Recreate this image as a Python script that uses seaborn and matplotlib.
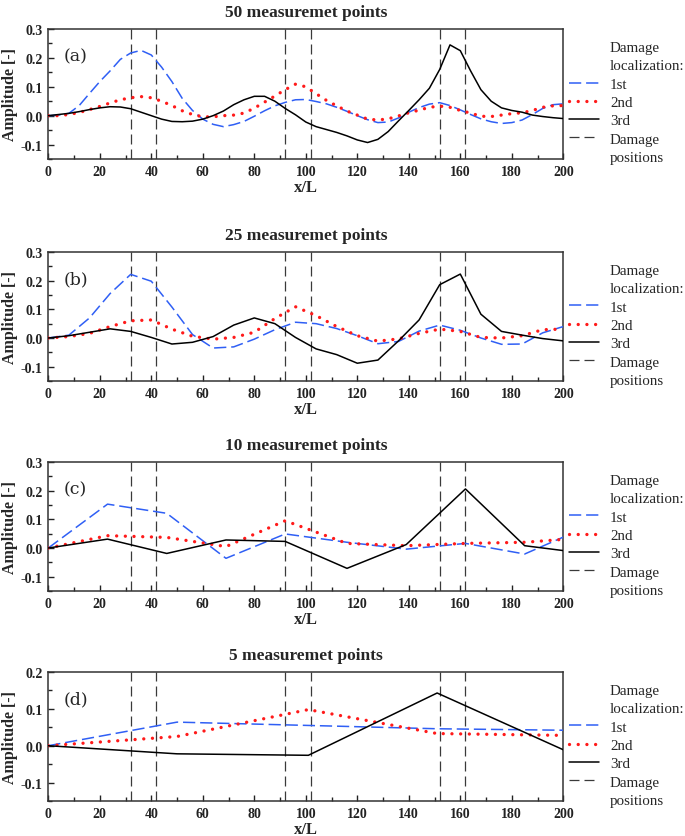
import matplotlib
matplotlib.use("Agg")
import matplotlib.pyplot as plt
import seaborn as sns
import numpy as np
from matplotlib.lines import Line2D
from matplotlib.ticker import MultipleLocator

# ---------------- data ----------------
x50 = list(range(0, 201, 4))
a1 = [0, 0.002, 0.008, 0.035, 0.077, 0.118, 0.155, 0.195, 0.217, 0.226, 0.21, 0.168, 0.118, 0.06, 0.018,
      -0.012, -0.03, -0.038, -0.031, -0.02, -0.002, 0.017, 0.034, 0.046, 0.055, 0.056, 0.049, 0.041, 0.029,
      0.015, 0.0, -0.014, -0.024, -0.022, -0.008, 0.012, 0.028, 0.04, 0.045, 0.035, 0.02, 0.004, -0.011,
      -0.021, -0.027, -0.024, -0.015, 0.004, 0.025, 0.038, 0.041]
a2 = [0, 0.0, 0.004, 0.011, 0.021, 0.032, 0.044, 0.055, 0.062, 0.066, 0.062, 0.05, 0.035, 0.017, 0.004,
      -0.004, -0.004, 0.0, 0.002, 0.009, 0.026, 0.047, 0.068, 0.09, 0.109, 0.1, 0.076, 0.053, 0.034, 0.016,
      0.002, -0.012, -0.015, -0.011, -0.001, 0.01, 0.019, 0.029, 0.033, 0.029, 0.018, 0.009, -0.002, -0.003,
      0.002, 0.007, 0.01, 0.018, 0.029, 0.034, 0.035]
a3 = [0, 0.004, 0.008, 0.014, 0.021, 0.027, 0.031, 0.03, 0.024, 0.012, 0.0, -0.012, -0.02, -0.021, -0.019,
      -0.012, 0.0, 0.016, 0.038, 0.055, 0.067, 0.067, 0.05, 0.025, 0.003, -0.022, -0.038, -0.048, -0.058,
      -0.07, -0.084, -0.093, -0.082, -0.055, -0.018, 0.018, 0.055, 0.095, 0.16, 0.245, 0.225, 0.155, 0.09,
      0.05, 0.027, 0.018, 0.012, 0.002, -0.003, -0.007, -0.01]

x25 = list(range(0, 201, 8))
b1 = [0, 0.01, 0.07, 0.155, 0.222, 0.198, 0.108, 0.012, -0.035, -0.031, -0.004, 0.029, 0.055,
      0.05, 0.033, 0.008, -0.02, -0.012, 0.024, 0.045, 0.027, 0.0, -0.022, -0.021, 0.018, 0.04]
b2 = [0, 0.005, 0.016, 0.04, 0.06, 0.063, 0.031, 0.006, -0.004, 0.002, 0.02, 0.068, 0.109,
      0.078, 0.04, 0.008, -0.011, -0.003, 0.016, 0.031, 0.023, 0.002, 0.0, 0.008, 0.029, 0.031]
b3 = [0, 0.008, 0.02, 0.032, 0.023, 0.002, -0.021, -0.015, 0.005, 0.045, 0.07, 0.05, 0.002,
      -0.038, -0.058, -0.088, -0.077, -0.01, 0.063, 0.186, 0.223, 0.083, 0.023, 0.01, -0.002, -0.01]

x10 = [0, 23, 46, 69, 92, 116, 139, 162, 185, 200]
c1 = [0, 0.153, 0.121, -0.036, 0.049, 0.02, -0.004, 0.016, -0.021, 0.038]
c2 = [0, 0.043, 0.037, 0.005, 0.095, 0.016, 0.008, 0.016, 0.02, 0.03]
c3 = [0, 0.031, -0.019, 0.028, 0.023, -0.071, 0.012, 0.206, 0.008, -0.009]

x5 = [0, 50, 101, 151, 200]
d1 = [0, 0.064, 0.055, 0.046, 0.042]
d2 = [0, 0.025, 0.098, 0.033, 0.028]
d3 = [0, -0.022, -0.026, 0.143, -0.011]

damage_positions = [32, 42, 92, 102, 152, 162]
titles = ["50 measuremet points", "25 measuremet points", "10 measuremet points", "5 measuremet points"]
panel_labels = ["(a)", "(b)", "(c)", "(d)"]
series_labels = ["1st", "2nd", "3rd"]
legend_title_lines = ["Damage", "localization:"]
damage_label_lines = ["Damage", "positions"]

# ---------------- style ----------------
sns.set_style("ticks")
plt.rcParams['font.family'] = ['Liberation Serif', 'DejaVu Serif']
plt.rcParams['axes.edgecolor'] = '#333333'
plt.rcParams['axes.linewidth'] = 1.1

BLUE = '#2f5ff5'
RED = '#ff1a1a'
DASH_BLUE = (0, (8, 3.2))
DOT_RED = (0, (0.01, 2.6))
DASH_DMG = (0, (8, 4))

fig = plt.figure(figsize=(6.85, 8.37), dpi=100)
left = 48.3 / 685
width = (563.3 - 48.3) / 685
tops = [30, 253, 463, 673]
bottoms = [160, 382, 592, 802]

panels = [(x50, a1, a2, a3), (x25, b1, b2, b3), (x10, c1, c2, c3), (x5, d1, d2, d3)]

for i, (xs, s1, s2, s3) in enumerate(panels):
    b = (837 - bottoms[i]) / 837
    h = (bottoms[i] - tops[i]) / 837
    ax = fig.add_axes([left, b, width, h])
    for xp in damage_positions:
        ax.axvline(xp, color='#3a3a3a', lw=0.9, linestyle=DASH_DMG, zorder=1)
    sns.lineplot(x=xs, y=s1, ax=ax, color=BLUE, lw=1.1, linestyle=DASH_BLUE, zorder=3)
    sns.lineplot(x=xs, y=s2, ax=ax, color=RED, lw=2.4, linestyle=DOT_RED,
                 dash_capstyle='round', zorder=4)
    sns.lineplot(x=xs, y=s3, ax=ax, color='black', lw=1.1, zorder=5)

    ax.set_xlim(0, 200)
    if i < 3:
        ax.set_ylim(-0.15, 0.3)
        ax.set_yticks([-0.1, 0.0, 0.1, 0.2, 0.3])
    else:
        ax.set_ylim(-0.15, 0.2)
        ax.set_yticks([-0.1, 0.0, 0.1, 0.2])
    ax.set_yticklabels(['-0.1' if v < 0 else f'{v:.1f}' for v in ax.get_yticks()])
    ax.xaxis.set_major_locator(MultipleLocator(20))
    ax.xaxis.set_minor_locator(MultipleLocator(10))
    ax.yaxis.set_minor_locator(MultipleLocator(0.05))
    ax.tick_params(which='both', direction='in', top=False, right=False,
                   colors='#222222', width=1.0)
    ax.tick_params(which='major', length=4, labelsize=10, pad=4)
    ax.tick_params(which='minor', length=3)
    for lab in ax.get_xticklabels() + ax.get_yticklabels():
        lab.set_fontweight('bold')
    ax.set_xlabel("x/L", fontsize=12, fontweight='bold', labelpad=1)
    ax.set_ylabel("Amplitude [-]", fontsize=11.5, fontweight='bold', labelpad=2)
    ax.set_title(titles[i], fontsize=12.5, fontweight='bold', pad=9)
    ax.text(0.03, 0.79, panel_labels[i], transform=ax.transAxes, fontsize=12.5,
            family='DejaVu Serif', va='center', ha='left')

    blank = Line2D([], [], color='none')
    handles = [blank, blank,
               Line2D([], [], color=BLUE, lw=1.1, linestyle=DASH_BLUE),
               Line2D([], [], color=RED, lw=2.4, linestyle=DOT_RED, dash_capstyle='round'),
               Line2D([], [], color='black', lw=1.1),
               Line2D([], [], color='#3a3a3a', lw=0.9, linestyle=DASH_DMG),
               blank]
    labels = legend_title_lines + series_labels + damage_label_lines
    ax.legend(handles, labels, loc='upper left', bbox_to_anchor=(1.012, 0.91),
              frameon=False, fontsize=10.8, handlelength=2.0, handletextpad=0.7,
              labelspacing=0.32, borderaxespad=0, borderpad=0)

fig.savefig("out.png", dpi=100)
